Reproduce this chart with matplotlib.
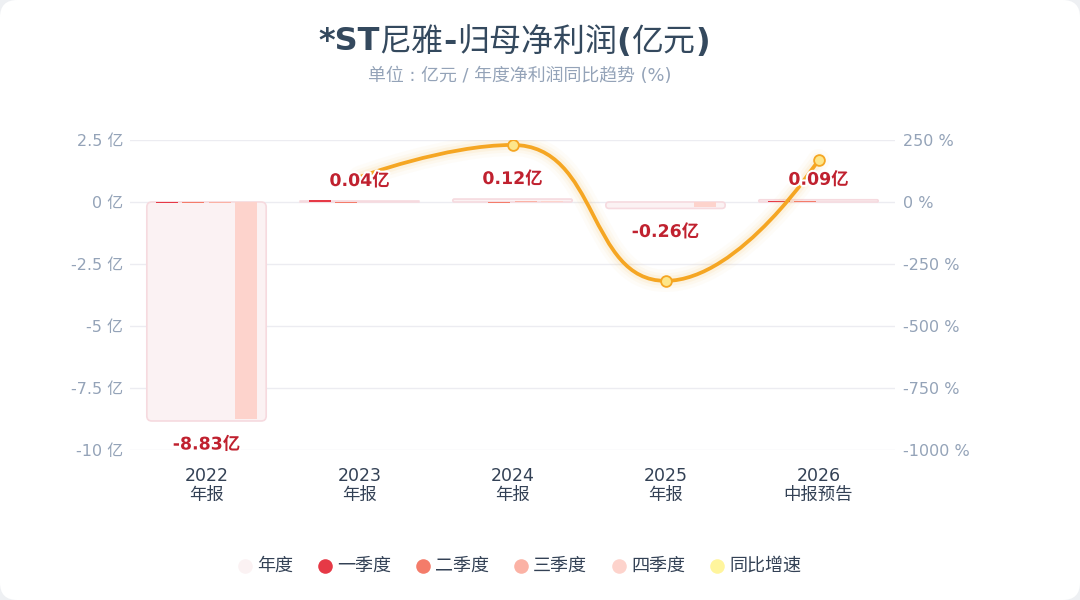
import numpy as np
import matplotlib
matplotlib.use('Agg')
import matplotlib.pyplot as plt
from matplotlib.path import Path
from matplotlib.patches import PathPatch, FancyBboxPatch
from matplotlib.lines import Line2D
import matplotlib.patheffects as pe

plt.rcParams['font.family'] = ['DejaVu Sans', 'Noto Sans CJK SC']

# data (亿元 / %)
years = ['2022', '2023', '2024', '2025', '2026']
periods = ['年报', '年报', '年报', '年报', '中报预告']
annual = [-8.83, 0.04, 0.12, -0.26, 0.09]
q1 = [-0.04, 0.10, 0.02, -0.02, 0.04]
q2 = [-0.03, -0.04, -0.03, -0.02, 0.05]
q3 = [-0.04, 0.01, 0.03, -0.02, np.nan]
q4 = [-8.73, -0.02, 0.06, -0.22, np.nan]
yoy = [np.nan, 100.5, 230.0, -318.0, 169.0]

q_names = ['一季度', '二季度', '三季度', '四季度']
q_colors = ['#E63946', '#F47C6A', '#FBB2A5', '#FDD3CC']
annual_color = '#FBF2F3'
annual_edge = '#F6DADF'
line_color = '#F5A623'
marker_face = '#FDE68A'
label_red = '#C0212F'
tick_gray = '#94A3B8'
dark = '#334155'

W, H = 1080, 600
fig = plt.figure(figsize=(W / 100, H / 100), dpi=100)
fig.patch.set_facecolor('#EEF0F3')
card = FancyBboxPatch((0, 0), 1, 1, boxstyle='round,pad=0,rounding_size=0.016',
                      transform=fig.transFigure, facecolor='white', edgecolor='none',
                      mutation_aspect=W / H, zorder=-10)
fig.add_artist(card)

ax = fig.add_axes([130 / W, 1 - 450 / H, 765 / W, 310 / H])
ax.set_facecolor('none')
ax2 = ax.twinx()

x = np.arange(len(years))
ax.set_xlim(-0.5, len(years) - 0.5)
ax.set_ylim(-10, 2.5)
ax2.set_ylim(-1000, 250)
px_x = 1 / 153.0          # x data units per pixel
px_y = 12.5 / 310.0       # y data units per pixel

# annual bars with small rounded corners
bw = 0.78
for i, v in enumerate(annual):
    h = abs(v)
    y0 = min(v, 0)
    r_px = max(min(5.0, h / px_y / 2), 0.2)
    p = FancyBboxPatch((x[i] - bw / 2, y0), bw, h,
                       boxstyle='round,pad=0,rounding_size=%f' % (r_px * px_x),
                       mutation_aspect=px_y / px_x,
                       facecolor=annual_color, edgecolor=annual_edge, linewidth=1.2, zorder=2)
    ax.add_patch(p)

# quarterly bars
qw = 22 / 153
offs = np.array([-1.5, -0.5, 0.5, 1.5]) * 26.3 / 153
for k, (qv, c) in enumerate(zip([q1, q2, q3, q4], q_colors)):
    qv = np.array(qv, dtype=float)
    m = ~np.isnan(qv)
    ax.bar(x[m] + offs[k], qv[m], width=qw, color=c, zorder=3, linewidth=0)

# smooth yoy line (echarts-like bezier with clamped control points)
sx = 153.0
sy = 24.8 / 100
pts = [(x[i] * sx, yoy[i] * sy) for i in range(len(years)) if not np.isnan(yoy[i])]
smooth = 0.5
n = len(pts)
cps = []
for i in range(n):
    px, py = pts[i - 1] if i > 0 else pts[i]
    cx, cy = pts[i]
    nx, ny = pts[i + 1] if i < n - 1 else pts[i]
    vx, vy = nx - px, ny - py
    lp = np.hypot(cx - px, cy - py)
    ln = np.hypot(nx - cx, ny - cy)
    if lp == 0 or ln == 0:
        cps.append(((cx, cy), (cx, cy)))
        continue
    rn = ln / (ln + lp)
    ncx = cx + vx * smooth * rn
    ncy = cy + vy * smooth * rn
    ncx = min(max(ncx, min(nx, cx)), max(nx, cx))
    ncy = min(max(ncy, min(ny, cy)), max(ny, cy))
    vx, vy = ncx - cx, ncy - cy
    pcx = cx - vx * lp / ln
    pcy = cy - vy * lp / ln
    pcx = min(max(pcx, min(px, cx)), max(px, cx))
    pcy = min(max(pcy, min(py, cy)), max(py, cy))
    vx, vy = cx - pcx, cy - pcy
    ncx = cx + vx * ln / lp
    ncy = cy + vy * ln / lp
    cps.append(((pcx, pcy), (ncx, ncy)))

verts = [pts[0]]
codes = [Path.MOVETO]
for i in range(n - 1):
    verts += [cps[i][1], cps[i + 1][0], pts[i + 1]]
    codes += [Path.CURVE4] * 3
verts = [(vx_ / sx, vy_ / sy) for vx_, vy_ in verts]
path = Path(verts, codes)

for lw, a in [(16, 0.035), (11, 0.055), (7, 0.09)]:
    ax2.add_patch(PathPatch(path, facecolor='none', edgecolor='#F8B84A', lw=lw, alpha=a,
                            capstyle='round', joinstyle='round', zorder=4))
ax2.add_patch(PathPatch(path, facecolor='none', edgecolor=line_color, lw=2.7,
                        capstyle='round', zorder=5))
yv = np.array(yoy)
m = ~np.isnan(yv)
idx = x[m][1:]   # first point's symbol is hidden under its label
ax2.scatter(idx, yv[m][1:], s=60, facecolor=marker_face, edgecolor=line_color,
            linewidth=1.3, zorder=6)
ax2.set_zorder(ax.get_zorder() + 1)
ax2.patch.set_visible(False)

# annual value labels (on top of the line)
for i, v in enumerate(annual):
    ty = v + 20 * px_y if v >= 0 else v - 23.5 * px_y
    ax2.text(x[i], ty * 100, '%.2f亿' % v, ha='center', va='center', fontsize=12.5,
             fontweight='bold', color=label_red, zorder=8,
             path_effects=[pe.withStroke(linewidth=3, foreground='white')])

# axes styling
lt = [2.5, 0, -2.5, -5, -7.5, -10]
rt = [250, 0, -250, -500, -750, -1000]
ax.set_yticks(lt)
ax.set_yticklabels(['%g 亿' % v for v in lt])
ax2.set_yticks(rt)
ax2.set_yticklabels(['%g %%' % v for v in rt])
for a in (ax, ax2):
    for s in a.spines.values():
        s.set_visible(False)
    a.tick_params(axis='y', length=0, labelsize=11.5, colors=tick_gray)
ax.tick_params(axis='y', pad=5)
ax2.tick_params(axis='y', pad=6)
ax.grid(axis='y', color='#ECECF1', linewidth=1, zorder=0)
ax.set_axisbelow(True)
ax.set_xticks(x)
ax.set_xticklabels(['%s\n%s' % (y_, p_) for y_, p_ in zip(years, periods)],
                   fontsize=12.5, color=dark, linespacing=1.1)
ax.tick_params(axis='x', length=0, pad=12)

# title: bold latin parts, regular CJK parts
parts = [('*ST', 'bold'), ('尼雅', 'normal'), ('-', 'bold'), ('归母净利润', 'normal'),
         ('(', 'bold'), ('亿元', 'normal'), (')', 'bold')]
renderer = fig.canvas.get_renderer()
tobjs = []
for s, w in parts:
    tobjs.append(fig.text(0, 1 - 42 / H, s, ha='left', va='center', fontsize=23,
                          fontweight=w, color='#34495E'))
widths = [t.get_window_extent(renderer).width for t in tobjs]
xpos = 514 - sum(widths) / 2
for t, wd in zip(tobjs, widths):
    t.set_x(xpos / W)
    xpos += wd

fig.text(520 / W, 1 - 76 / H, '单位 : 亿元 / 年度净利润同比趋势 (%)', ha='center', va='center',
         fontsize=12.9, color=tick_gray)

# legend
leg_names = ['年度'] + q_names + ['同比增速']
leg_colors = [annual_color] + q_colors + ['#FFF59D']
leg_x = [245, 325, 423, 521, 619, 717]
ly = 1 - 566 / H
for nm, c, lx in zip(leg_names, leg_colors, leg_x):
    fig.add_artist(Line2D([lx / W], [ly], marker='o', markersize=10.5,
                          markerfacecolor=c, markeredgecolor='none',
                          transform=fig.transFigure))
    fig.text((lx + 12) / W, ly, nm, ha='left', va='center', fontsize=13, color=dark)

fig.savefig('out.png', dpi=100, facecolor=fig.get_facecolor())
